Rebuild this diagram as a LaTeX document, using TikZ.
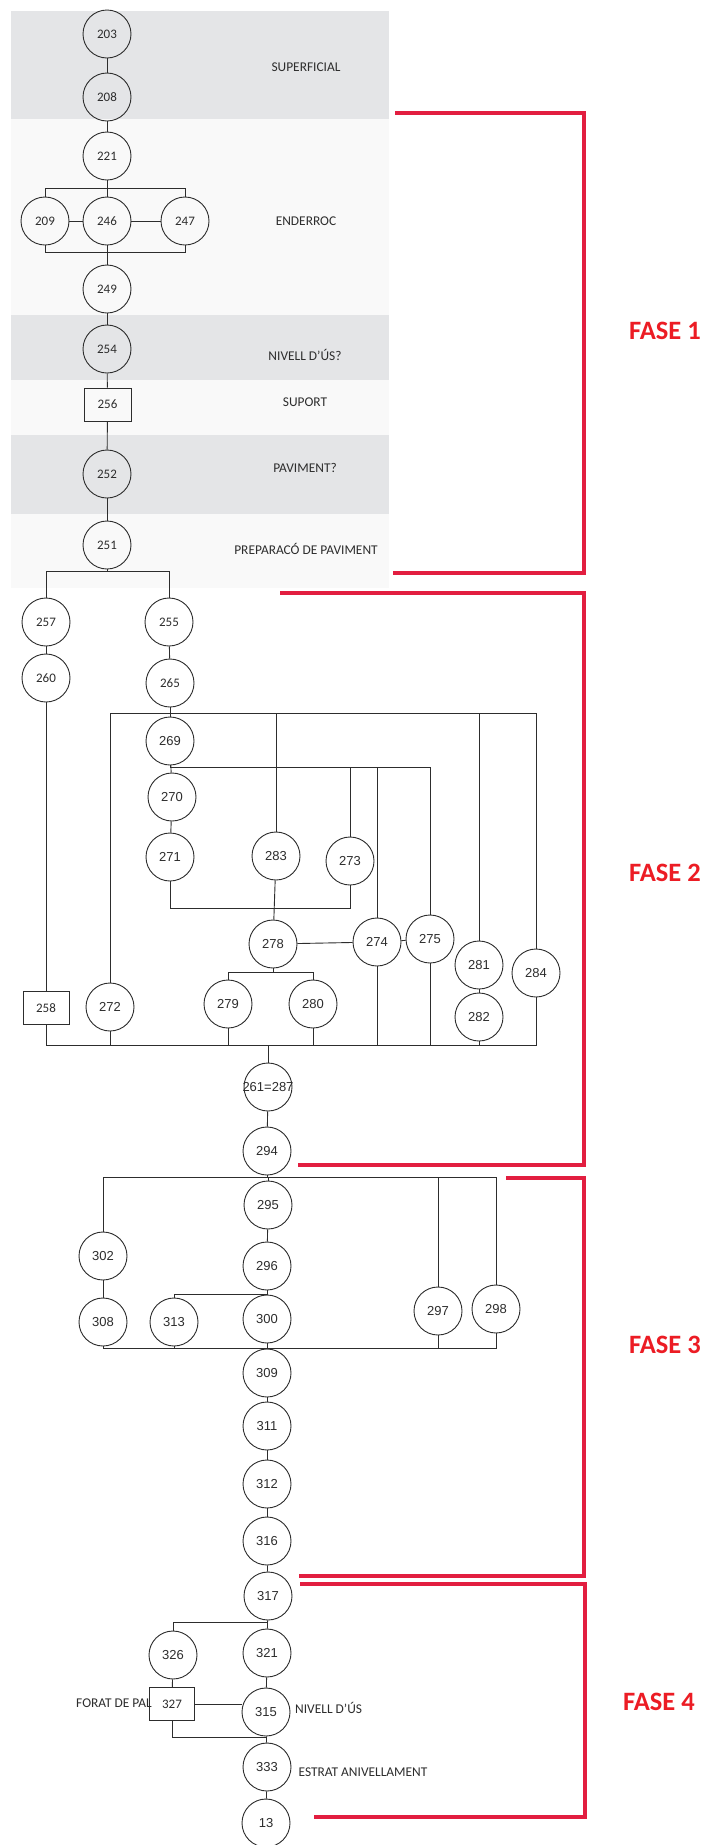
\documentclass[tikz,border=0pt]{standalone}
\usepackage{fontspec}
\setmainfont{Carlito}
\newfontfamily\arialf{Liberation Sans}
\definecolor{rossofase}{RGB}{226,30,64}
\definecolor{testofase}{RGB}{236,28,36}
\definecolor{grigiob}{RGB}{228,229,231}
\definecolor{chiarob}{RGB}{249,249,249}
\definecolor{tratto}{RGB}{45,45,45}
\begin{document}
\begin{tikzpicture}[x=1pt, y=-1pt,
    cerchio/.style={circle, draw=tratto, line width=0.9pt, minimum size=48pt, inner sep=0pt, text=tratto, font=\fontsize{13}{15}\selectfont},
    cerchioa/.style={cerchio, font=\arialf\fontsize{13}{15}\selectfont},
    scatola/.style={rectangle, draw=tratto, line width=0.9pt, minimum width=46pt, minimum height=33pt, inner sep=0pt, text=tratto, font=\fontsize{13}{15}\selectfont},
    etichetta/.style={text=tratto, inner sep=0pt, font=\fontsize{13.4}{15}\selectfont},
    fase/.style={text=testofase, inner sep=0pt, font=\bfseries\fontsize{26.5}{30}\selectfont},
    parentesi/.style={draw=rossofase, line width=4.5pt},
    linea/.style={draw=tratto, line width=0.9pt}]
    \fill[white] (0,0) rectangle (707,1845);
    \useasboundingbox (0,0) rectangle (707,1845);
    %fasce
    \fill[grigiob] (11,11) rectangle (389,119);
    \fill[chiarob] (11,119) rectangle (389,315);
    \fill[grigiob] (11,315) rectangle (389,380);
    \fill[chiarob] (11,380) rectangle (389,435);
    \fill[grigiob] (11,435) rectangle (389,514);
    \fill[chiarob] (11,514) rectangle (389,588);
    %livelli
    \coordinate (s1) at (0,188);
    \coordinate (s2) at (0,252);
    \coordinate (s3) at (0,571);
    \coordinate (s4) at (0,713);
    \coordinate (s5) at (0,767);
    \coordinate (s6) at (0,908);
    \coordinate (s7) at (0,972);
    \coordinate (s8) at (0,1045);
    \coordinate (s9) at (0,1177);
    \coordinate (s10) at (0,1294);
    \coordinate (s11) at (0,1348);
    \coordinate (s12) at (0,1622);
    \coordinate (s13) at (0,1737);
    %nodi fase 1
    \node[cerchio] (n203) at (107,34) {203};
    \node[cerchio] (n208) at (107,97) {208};
    \node[cerchio] (n221) at (107,156) {221};
    \node[cerchio] (n209) at (45,221) {209};
    \node[cerchio] (n246) at (107,221) {246};
    \node[cerchio] (n247) at (185,221) {247};
    \node[cerchio] (n249) at (107,289) {249};
    \node[cerchio] (n254) at (107,349) {254};
    \node[scatola, minimum width=47pt] (n256) at (107.5,404.5) {256};
    \node[cerchio] (n252) at (107,474) {252};
    \node[cerchio] (n251) at (107,545) {251};
    %nodi fase 2
    \node[cerchio] (n257) at (46,622) {257};
    \node[cerchio] (n260) at (46,678) {260};
    \node[cerchio] (n255) at (169,622) {255};
    \node[cerchio] (n265) at (170,683) {265};
    \node[cerchioa] (n269) at (170,741) {269};
    \node[cerchioa] (n270) at (172,797) {270};
    \node[cerchioa] (n271) at (170,857) {271};
    \node[cerchioa] (n283) at (276,856) {283};
    \node[cerchioa] (n273) at (350,861) {273};
    \node[cerchioa] (n278) at (273,944) {278};
    \node[cerchioa] (n274) at (377,942) {274};
    \node[cerchioa] (n275) at (430,939) {275};
    \node[cerchioa] (n281) at (479,965) {281};
    \node[cerchioa] (n282) at (479,1017) {282};
    \node[cerchioa] (n284) at (536,973) {284};
    \node[cerchioa] (n279) at (228,1004) {279};
    \node[cerchioa] (n280) at (313,1004) {280};
    \node[cerchioa] (n272) at (110,1007) {272};
    \node[scatola] (n258) at (46,1008) {258};
    \node[cerchioa] (n261) at (268,1087) {\makebox[0pt]{261=287}};
    \node[cerchioa] (n294) at (267,1151) {294};
    %nodi fase 3
    \node[cerchioa] (n295) at (268,1205) {295};
    \node[cerchioa] (n296) at (267,1266) {296};
    \node[cerchioa] (n302) at (103,1256) {302};
    \node[cerchioa] (n308) at (103,1322) {308};
    \node[cerchioa] (n313) at (174,1322) {313};
    \node[cerchioa] (n300) at (267,1319) {300};
    \node[cerchioa] (n297) at (438,1311) {297};
    \node[cerchioa] (n298) at (496,1309) {298};
    \node[cerchioa] (n309) at (267,1373) {309};
    \node[cerchioa] (n311) at (267,1426) {311};
    \node[cerchioa] (n312) at (267,1484) {312};
    \node[cerchioa] (n316) at (267,1541) {316};
    %nodi fase 4
    \node[cerchioa] (n317) at (268,1596) {317};
    \node[cerchioa] (n326) at (173,1655) {326};
    \node[cerchioa] (n321) at (267,1653) {321};
    \node[scatola, minimum width=45pt] (n327) at (172,1704) {327};
    \node[cerchioa] (n315) at (266,1712) {315};
    \node[cerchioa] (n333) at (267,1767) {333};
    \node[cerchioa] (n13) at (266,1823) {13};
    %collegamenti fase 1
    \draw[linea] (n203) -- (n208);
    \draw[linea] (n208) -- (n221);
    \draw[linea] (n221) -- (n246);
    \draw[linea] (n209.north) -- (n209.north |- s1) -- (n247.north |- s1) -- (n247.north);
    \draw[linea] (n209) -- (n246);
    \draw[linea] (n246) -- (n247);
    \draw[linea] (n209.south) -- (n209.south |- s2) -- (n247.south |- s2) -- (n247.south);
    \draw[linea] (n246) -- (n249);
    \draw[linea] (n249) -- (n254);
    \draw[linea] (n254) -- (n256);
    \draw[linea] (n256) -- (n252);
    \draw[linea] (n252) -- (n251);
    \draw[linea] (n251) -- (n251.south |- s3);
    \draw[linea] (n257.north) -- (n257.north |- s3) -- (n255.north |- s3) -- (n255.north);
    %collegamenti fase 2
    \draw[linea] (n257) -- (n260);
    \draw[linea] (n260) -- (n258);
    \draw[linea] (n255) -- (n265);
    \draw[linea] (n265) -- (n269);
    \draw[linea] (n272.north) -- (n272.north |- s4) -- (n284.north |- s4) -- (n284.north);
    \draw[linea] (n283.north) -- (n283.north |- s4);
    \draw[linea] (n281.north) -- (n281.north |- s4);
    \draw[linea] (n269) -- (n270);
    \draw[linea] (n269.south) -- (n269.south |- s5) -- (n275.north |- s5) -- (n275.north);
    \draw[linea] (n273.north) -- (n273.north |- s5);
    \draw[linea] (n274.north) -- (n274.north |- s5);
    \draw[linea] (n270) -- (n271);
    \draw[linea] (n271.south) -- (n271.south |- s6) -- (n273.south |- s6) -- (n273.south);
    \draw[linea] (n283) -- (n278);
    \draw[linea] (n278) -- (n274);
    \draw[linea] (n274) -- (n275);
    \draw[linea] (n278.south) -- (n278.south |- s7);
    \draw[linea] (n279.north) -- (n279.north |- s7) -- (n280.north |- s7) -- (n280.north);
    \draw[linea] (n281) -- (n282);
    \draw[linea] (n258.south) -- (n258.south |- s8) -- (n284.south |- s8) -- (n284.south);
    \draw[linea] (n272.south) -- (n272.south |- s8);
    \draw[linea] (n279.south) -- (n279.south |- s8);
    \draw[linea] (n280.south) -- (n280.south |- s8);
    \draw[linea] (n274.south) -- (n274.south |- s8);
    \draw[linea] (n275.south) -- (n275.south |- s8);
    \draw[linea] (n282.south) -- (n282.south |- s8);
    \draw[linea] (n261.north) -- (n261.north |- s8);
    \draw[linea] (n261) -- (n294);
    %collegamenti fase 3
    \draw[linea] (n294.south) -- (n294.south |- s9);
    \draw[linea] (n302.north) -- (n302.north |- s9) -- (n298.north |- s9) -- (n298.north);
    \draw[linea] (n297.north) -- (n297.north |- s9);
    \draw[linea] (n295.north) -- (n295.north |- s9);
    \draw[linea] (n295) -- (n296);
    \draw[linea] (n296) -- (n300);
    \draw[linea] (n313.north) -- (n313.north |- s10) -- (n296.south |- s10);
    \draw[linea] (n302) -- (n308);
    \draw[linea] (n308.south) -- (n308.south |- s11) -- (n298.south |- s11) -- (n298.south);
    \draw[linea] (n313.south) -- (n313.south |- s11);
    \draw[linea] (n300.south) -- (n300.south |- s11);
    \draw[linea] (n297.south) -- (n297.south |- s11);
    \draw[linea] (n309.north) -- (n309.north |- s11);
    \draw[linea] (n309) -- (n311);
    \draw[linea] (n311) -- (n312);
    \draw[linea] (n312) -- (n316);
    \draw[linea] (n316) -- (n317);
    %collegamenti fase 4
    \draw[linea] (n317) -- (n321);
    \draw[linea] (n326.north) -- (n326.north |- s12) -- (n317.south |- s12);
    \draw[linea] (n326) -- (n327);
    \draw[linea] (n327.east) -- (n327.east -| n315.west);
    \draw[linea] (n321) -- (n315);
    \draw[linea] (n327.south) -- (n327.south |- s13) -- (n333.north |- s13);
    \draw[linea] (n315) -- (n333);
    \draw[linea] (n333) -- (n13);
    %etichette
    \node[etichetta] (superficial) at (306,67) {SUPERFICIAL};
    \node[etichetta] (enderroc) at (306,221) {ENDERROC};
    \node[etichetta] (nivell1) at (305,355) {NIVELL D’ÚS?};
    \node[etichetta] (suport) at (305,402) {SUPORT};
    \node[etichetta] (paviment) at (305,468) {PAVIMENT?};
    \node[etichetta] (preparacio) at (306,549) {PREPARACÓ DE PAVIMENT};
    \node[etichetta, anchor=east] (forat) at (152,1703) {FORAT DE PAL};
    \node[etichetta, anchor=west] (nivell2) at (295,1708) {NIVELL D’ÚS};
    \node[etichetta, anchor=west] (estrat) at (298.5,1772) {ESTRAT ANIVELLAMENT};
    %fasi
    \draw[parentesi] (395,113) -- (584,113) -- (584,573) -- (393,573);
    \draw[parentesi] (280,593) -- (584,593) -- (584,1165) -- (298,1165);
    \draw[parentesi] (506,1178) -- (584,1178) -- (584,1576) -- (299,1576);
    \draw[parentesi] (300,1584) -- (585,1584) -- (585,1817) -- (314,1817);
    \node[fase] (fase1) at (665,331) {FASE 1};
    \node[fase] (fase2) at (665,873) {FASE 2};
    \node[fase] (fase3) at (665,1345) {FASE 3};
    \node[fase] (fase4) at (659,1702) {FASE 4};
\end{tikzpicture}
\end{document}
